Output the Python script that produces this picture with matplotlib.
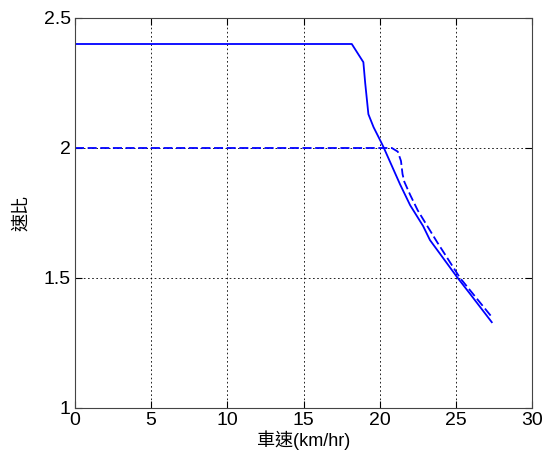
import matplotlib
matplotlib.use("Agg")
import matplotlib.pyplot as plt

# Speed-ratio curves against vehicle speed
solid_speed = [0, 18.17, 18.93, 19.05, 19.26, 19.6, 20.03, 20.24, 21.34, 22.0,
               22.85, 23.3, 24.0, 25.06, 26.0, 27.36]
solid_ratio = [2.4, 2.4, 2.33, 2.25, 2.13, 2.08, 2.03, 2.005, 1.86, 1.78,
               1.70, 1.646, 1.59, 1.505, 1.434, 1.33]

dashed_speed = [0, 20.8, 21.19, 21.4, 21.5, 21.62, 22.0, 22.5, 23.75, 25.28, 27.36]
dashed_ratio = [2.0, 2.0, 1.986, 1.95, 1.90, 1.87, 1.82, 1.76, 1.64, 1.50, 1.35]

x_ticks = [0, 5, 10, 15, 20, 25, 30]
y_ticks = [1, 1.5, 2, 2.5]
x_label = "車速(km/hr)"
y_label = "速比"

plt.rcParams["font.family"] = ["Liberation Sans", "Noto Sans CJK TC", "DejaVu Sans"]

fig = plt.figure(figsize=(5.51, 4.62), dpi=100)
ax = fig.add_axes([75 / 551, 1 - 408 / 462, (532 - 75) / 551, (408 - 18) / 462])

ax.plot(solid_speed, solid_ratio, color="#0000ff", lw=1.3, linestyle="-")
ax.plot(dashed_speed, dashed_ratio, color="#0000ff", lw=1.3, linestyle=(0, (5, 2)))

ax.set_xlim(0, 30)
ax.set_ylim(1, 2.5)
ax.set_xticks(x_ticks)
ax.set_yticks(y_ticks)
ax.set_xticklabels([str(v) for v in x_ticks])
ax.set_yticklabels(["1", "1.5", "2", "2.5"])

ax.grid(True, color="black", linestyle=(0, (2, 3)), linewidth=0.6)
ax.tick_params(direction="in", length=5, width=0.8, top=True, right=True,
               labelsize=14, pad=3)
for sp in ax.spines.values():
    sp.set_linewidth(0.8)
    sp.set_color("#444444")

ax.set_xlabel(x_label, fontsize=13, family=["Liberation Sans", "Noto Sans CJK TC"], labelpad=1)
ax.set_ylabel(y_label, fontsize=13, family=["Noto Sans CJK TC", "Liberation Sans"], labelpad=10)

fig.savefig("out.png", dpi=100)
